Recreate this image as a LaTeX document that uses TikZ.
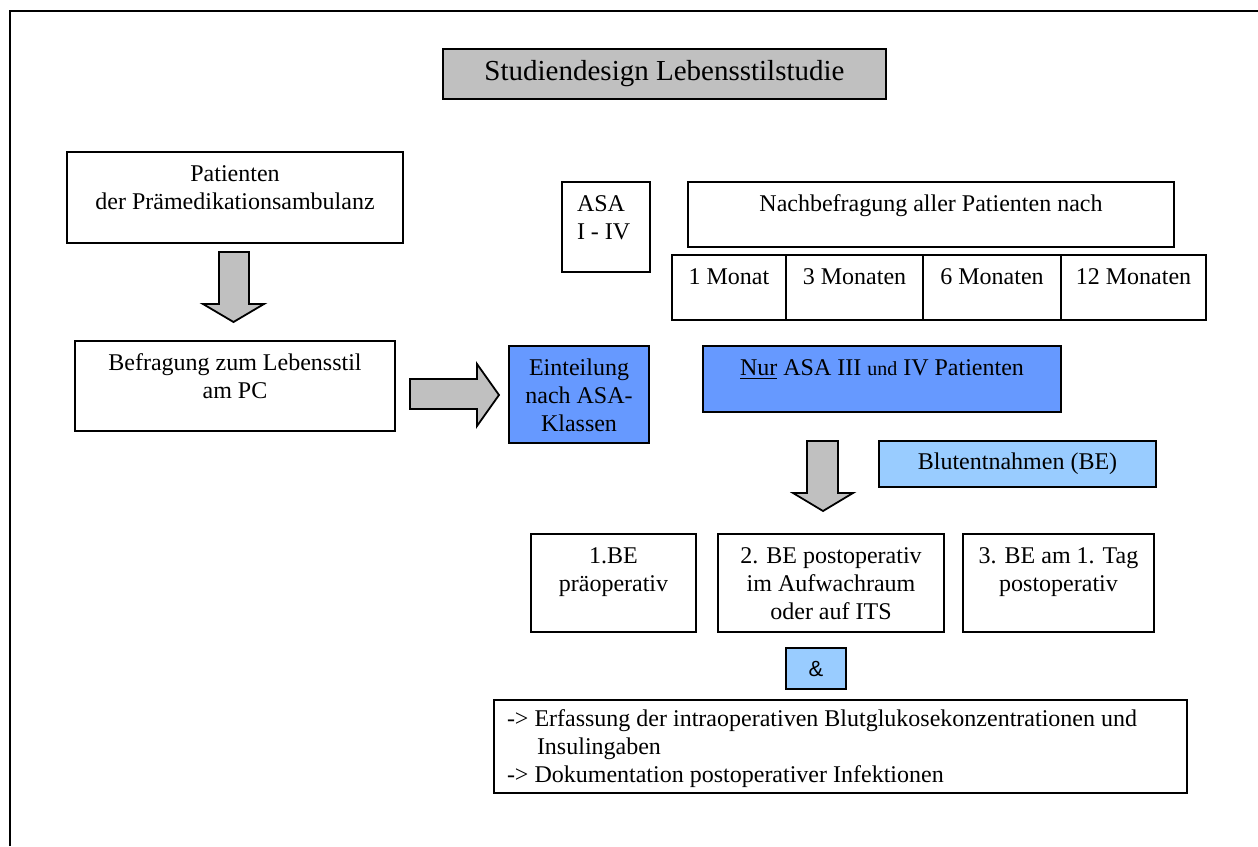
\documentclass[tikz,border=0pt]{standalone}
\usepackage{fontspec}
\setmainfont{Liberation Serif}
\newfontfamily\arialfont{Liberation Sans}
\usetikzlibrary{positioning}

\definecolor{boxgray}{HTML}{C0C0C0}
\definecolor{asablue}{HTML}{6699FF}
\definecolor{belightblue}{HTML}{99CCFF}

% text set at the top of a box of given width and height
\newcommand{\toptext}[3]{\parbox[t][#2][t]{#1}{\centering\rule{0pt}{14.5pt}#3}}

\begin{document}
\begin{tikzpicture}[x=0.5pt, y=-0.5pt,
  box/.style={draw, line width=0.9pt, inner sep=0pt, outer sep=0pt, anchor=north west,
    font=\fontsize{12}{14}\selectfont},
  blockarrow/.style={draw, line width=0.9pt, fill=boxgray, line join=miter}]
\useasboundingbox (0,0) rectangle (1258,846);
\draw[line width=0.8pt] (10,846) -- (10,11) -- (1258,11);

% title
\node[box, fill=boxgray, minimum width=221.5pt, minimum height=25pt,
  font=\fontsize{14.5}{17}\selectfont] (title) at (443,49) {Studiendesign Lebensstilstudie};

% left column
\node[box] (patients) at (67,152) {\toptext{168pt}{45.5pt}{Patienten\\der Prämedikationsambulanz}};
\node[box] (survey) at (75,341) {\toptext{160pt}{45pt}{Befragung zum Lebensstil\\am PC}};
\draw[blockarrow] (219,252) -- (249,252) -- (249,304) -- (264,304) -- (233.5,322)
  -- (203,304) -- (219,304) -- cycle;
\draw[blockarrow] (410,379) -- (477,379) -- (477,364) -- (499,395) -- (477,426)
  -- (477,409) -- (410,409) -- cycle;

\node[box, fill=asablue] (classes) at (509,346) {\toptext{70pt}{48.5pt}{Einteilung\\nach ASA-\\Klassen}};

% follow-up
\node[box] (asa) at (562,182) {\parbox[t][45pt][t]{44pt}{\leftskip=7.5pt\rule{0pt}{14.5pt}ASA\\I - IV}};
\node[box] (followup) at (688,182) {\toptext{243pt}{32.5pt}{Nachbefragung aller Patienten nach}};
\node[box] (m1) at (672,255) {\toptext{57pt}{32.5pt}{1 Monat}};
\node[box, right=0pt of m1] (m3) {\toptext{68.5pt}{32.5pt}{3 Monaten}};
\node[box, right=0pt of m3] (m6) {\toptext{69pt}{32.5pt}{6 Monaten}};
\node[box, right=0pt of m6] (m12) {\toptext{72.5pt}{32.5pt}{12 Monaten}};

% blood samples
\node[box, fill=asablue] (onlyasa) at (703,346)
  {\toptext{179pt}{33pt}{\underline{Nur} ASA III {\fontsize{10}{12}\selectfont und} IV Patienten}};
\draw[blockarrow] (807,441) -- (838,441) -- (838,493) -- (853,493) -- (823,511)
  -- (793,493) -- (807,493) -- cycle;
\node[box, fill=belightblue, minimum width=138.5pt, minimum height=23pt] (blood) at (879,441) {Blutentnahmen (BE)};

\node[box] (be1) at (531,534) {\toptext{82.5pt}{49pt}{1.BE\\präoperativ}};
\node[box] (be2) at (718,534) {\toptext{113pt}{49pt}{2. BE postoperativ\\im Aufwachraum\\oder auf ITS}};
\node[box] (be3) at (963,534) {\toptext{95.5pt}{49pt}{3. BE am 1. Tag\\postoperativ}};

\node[box, fill=belightblue, minimum width=30pt, minimum height=20.5pt,
  font=\arialfont\fontsize{11}{13}\selectfont] (amp) at (786,648) {\&};

\node[box] (record) at (494,700) {\parbox[t][46.5pt][t]{346.5pt}{\leftskip=6.5pt\rule{0pt}{13pt}%
  -> Erfassung der intraoperativen Blutglukosekonzentrationen und\\
  \hspace*{15pt}Insulingaben\\
  -> Dokumentation postoperativer Infektionen}};
\end{tikzpicture}
\end{document}
